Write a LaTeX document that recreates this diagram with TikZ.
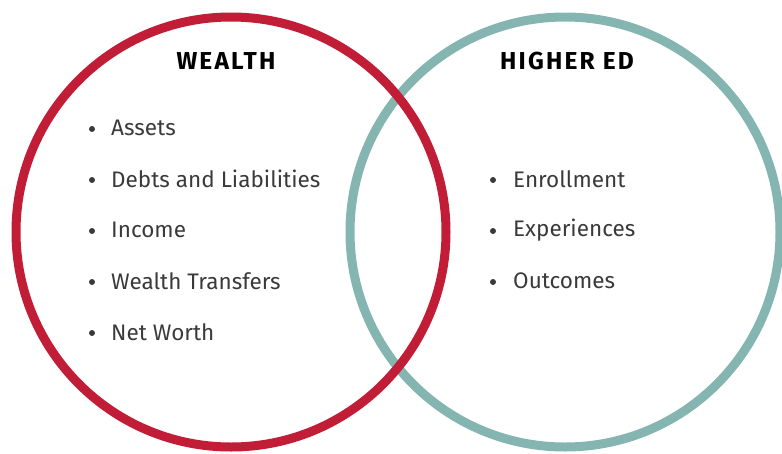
\documentclass[tikz,border=0pt]{standalone}
\usepackage{fontspec}
\setmainfont{Fira Sans}
\usepackage{xcolor}
\usetikzlibrary{positioning}
\definecolor{WealthRed}{HTML}{C21D37}
\definecolor{EdTeal}{HTML}{84B5B0}
\definecolor{TextGray}{HTML}{3A3A3A}

\begin{document}
\begin{tikzpicture}[
    x=1pt, y=-1pt,
    ring/.style={circle, minimum size=430pt, line width=9pt, inner sep=0pt},
    heading/.style={font=\fontsize{24.5}{28}\selectfont\bfseries\addfontfeature{LetterSpace=9}, text=black, anchor=center},
    item/.style={font=\fontsize{22.5}{26}\selectfont, text=TextGray, anchor=west, inner sep=0pt},
    dot/.style={circle, fill=TextGray, minimum size=6pt, inner sep=0pt}
]
\useasboundingbox (0,0) rectangle (782,453);
% the two circles, red one on top
\node[ring, draw=EdTeal] (higher) at (565, 232) {};
\node[ring, draw=WealthRed] (wealth) at (231, 232) {};

\node[heading] (wealthtitle) at (226, 61) {WEALTH};
\node[heading] (highertitle) at (567, 61) {HIGHER ED};

% wealth items
\node[dot] (w1b) at (92, 129) {};
\node[item] (w1) at (111, 128) {Assets};
\node[dot] (w2b) at (92, 180) {};
\node[item] (w2) at (111, 179) {Debts and Liabilities};
\node[dot] (w3b) at (92, 231) {};
\node[item] (w3) at (111, 230) {Income};
\node[dot] (w4b) at (92, 282) {};
\node[item] (w4) at (111, 281) {Wealth Transfers};
\node[dot] (w5b) at (92, 333) {};
\node[item] (w5) at (111, 332) {Net Worth};

% higher ed items
\node[dot] (h1b) at (493, 180) {};
\node[item] (h1) at (513, 179) {Enrollment};
\node[dot] (h2b) at (493, 231) {};
\node[item] (h2) at (513, 230) {Experiences};
\node[dot] (h3b) at (493, 282) {};
\node[item] (h3) at (513, 281) {Outcomes};
\end{tikzpicture}
\end{document}
